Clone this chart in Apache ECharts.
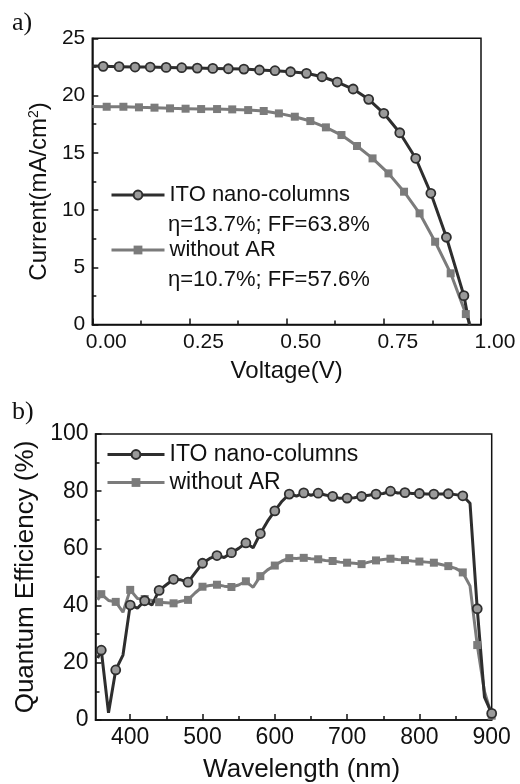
<!DOCTYPE html>
<html>
<head>
<meta charset="utf-8">
<script src="https://cdn.jsdelivr.net/npm/echarts@6/dist/echarts.min.js"></script>
<style>html,body{margin:0;padding:0;background:#fff;}#c{width:520px;height:784px;}</style>
</head>
<body>
<div id="c"></div>
<script>
// ---- Panel a: J-V curves ----
const itoV = [0.000, 0.028, 0.069, 0.110, 0.149, 0.190, 0.230, 0.270, 0.310, 0.350, 0.390, 0.430, 0.470, 0.510, 0.551, 0.591, 0.630, 0.671, 0.711, 0.750, 0.791, 0.832, 0.871, 0.911, 0.956, 0.970];
const itoI = [22.57, 22.55, 22.52, 22.49, 22.49, 22.46, 22.43, 22.40, 22.37, 22.34, 22.31, 22.23, 22.17, 22.08, 21.94, 21.64, 21.18, 20.57, 19.67, 18.45, 16.75, 14.52, 11.46, 7.62, 2.52, 0.00];
const noArV = [0.000, 0.037, 0.080, 0.120, 0.160, 0.200, 0.240, 0.280, 0.321, 0.360, 0.401, 0.441, 0.480, 0.521, 0.561, 0.601, 0.641, 0.681, 0.721, 0.762, 0.802, 0.842, 0.882, 0.922, 0.961, 0.972];
const noArI = [19.05, 19.02, 19.02, 18.97, 18.94, 18.88, 18.85, 18.82, 18.82, 18.79, 18.73, 18.65, 18.44, 18.15, 17.77, 17.22, 16.55, 15.59, 14.51, 13.20, 11.60, 9.71, 7.23, 4.47, 0.91, 0.00];

// ---- Panel b: quantum efficiency ----
const wl = [355, 360, 370, 380, 390, 400, 410, 420, 430, 440, 450, 460, 470, 480, 490, 500, 510, 520, 530, 540, 550, 560, 570, 580, 590, 600, 610, 620, 630, 640, 650, 660, 670, 680, 690, 700, 710, 720, 730, 740, 750, 760, 770, 780, 790, 800, 810, 820, 830, 840, 850, 860, 870, 880, 890, 900];
const qeIto = [21.6, 24.4, 2.5, 17.5, 22.7, 40.2, 39.1, 41.7, 40.2, 45.3, 47.3, 49.2, 49.0, 48.2, 51.5, 54.8, 56.5, 57.5, 56.8, 58.5, 60.0, 61.9, 60.2, 65.2, 69.5, 73.1, 76.5, 79.0, 78.3, 79.4, 78.6, 79.3, 78.7, 78.2, 77.5, 77.6, 77.7, 78.2, 78.6, 79.0, 79.2, 80.0, 79.4, 79.5, 79.2, 79.2, 79.0, 79.0, 79.0, 79.1, 78.8, 78.4, 75.8, 38.9, 8.0, 2.3];
const qeNoAr = [42.0, 44.0, 41.8, 41.3, 37.7, 45.5, 42.5, 42.3, 41.8, 41.2, 41.0, 40.8, 41.5, 42.0, 44.5, 46.6, 47.0, 47.3, 46.8, 46.5, 47.2, 48.5, 46.4, 50.3, 52.5, 54.0, 55.6, 56.6, 56.5, 56.7, 56.4, 56.2, 55.8, 55.6, 55.2, 55.0, 54.8, 54.5, 55.2, 55.8, 56.1, 56.4, 56.1, 55.9, 55.6, 55.4, 55.2, 55.0, 54.4, 53.8, 53.0, 51.6, 46.9, 26.2, 10.0, 1.5];
const wlMajor = [400, 500, 600, 700, 800, 900];
const wlMinor = [450, 550, 650, 750, 850];

const seriesNames = ['ITO nano-columns', 'without AR'];
const effText = ['η=13.7%; FF=63.8%', 'η=10.7%; FF=57.6%'];

const FONT = 'Liberation Sans, Arial, sans-serif';
const INK = '#111';
const DARK = '#2e2e2e';
const GRAY = '#7b7b7b';

// markers: panel a all measured points except the two end points; panel b every 20 nm
const jvData = (xs, ys) => xs.map((x, i) => (i > 0 && i < xs.length - 1) ? [x, ys[i]] : { value: [x, ys[i]], symbol: 'none' });
const qeData = (ys) => wl.map((x, i) => (x % 20 === 0) ? [x, ys[i]] : { value: [x, ys[i]], symbol: 'none' });

const axisLine = { show: true, lineStyle: { color: INK, width: 1.5 } };
const legendCommon = { padding: 0, itemHeight: 11, selectedMode: false, lineStyle: { width: 3 } };

const chart = echarts.init(document.getElementById('c'), null, { renderer: 'canvas' });
chart.setOption({
  animation: false,
  backgroundColor: '#fff',
  grid: [
    { left: 92.3, top: 38.3, width: 388.7, height: 286.2, show: true, borderColor: INK, borderWidth: 1.5, backgroundColor: 'transparent' },
    { left: 95.5, top: 434, width: 396.2, height: 288.3, show: true, borderColor: INK, borderWidth: 1.5, backgroundColor: 'transparent' }
  ],
  xAxis: [
    { gridIndex: 0, type: 'value', min: 0, max: 1, interval: 0.25,
      axisLine, splitLine: { show: false },
      axisTick: { inside: true, length: 6, lineStyle: { color: INK, width: 1.5 } },
      minorTick: { show: true, splitNumber: 2, length: 4, lineStyle: { color: INK, width: 1.5 } },
      axisLabel: { fontFamily: FONT, fontSize: 21, color: INK, margin: 7, padding: [0, 0, 0, 28], formatter: v => v.toFixed(2) },
      name: 'Voltage(V)', nameLocation: 'middle', nameGap: 35,
      nameTextStyle: { fontFamily: FONT, fontSize: 24, color: INK } },
    { gridIndex: 1, type: 'value', min: 352, max: 900,
      axisLine, splitLine: { show: false },
      axisTick: { inside: true, length: 6, customValues: wlMajor, lineStyle: { color: INK, width: 1.5 } },
      axisLabel: { fontFamily: FONT, fontSize: 23, color: INK, margin: 6, customValues: wlMajor },
      name: 'Wavelength (nm)', nameLocation: 'middle', nameGap: 37,
      nameTextStyle: { fontFamily: FONT, fontSize: 26, color: INK, padding: [0, 0, 0, 16] } },
    { gridIndex: 1, type: 'value', min: 352, max: 900, position: 'bottom',
      axisLine: { show: false }, splitLine: { show: false }, axisLabel: { show: false },
      axisTick: { inside: true, length: 4, customValues: wlMinor, lineStyle: { color: INK, width: 1.5 } } }
  ],
  yAxis: [
    { gridIndex: 0, type: 'value', min: 0, max: 25, interval: 5,
      axisLine, splitLine: { show: false },
      axisTick: { inside: true, length: 6, lineStyle: { color: INK, width: 1.5 } },
      minorTick: { show: true, splitNumber: 2, length: 4, lineStyle: { color: INK, width: 1.5 } },
      axisLabel: { fontFamily: FONT, fontSize: 21, color: INK, margin: 7 },
      name: 'Current(mA/cm{sup|2})', nameLocation: 'middle', nameGap: 40,
      nameTextStyle: { fontFamily: FONT, fontSize: 24, color: INK, padding: [0, 20, 0, 0],
        rich: { sup: { fontFamily: FONT, fontSize: 14, color: INK, verticalAlign: 'top', padding: [0, 0, 10, 0] } } } },
    { gridIndex: 1, type: 'value', min: 0, max: 100, interval: 20,
      axisLine, splitLine: { show: false },
      axisTick: { inside: true, length: 6, lineStyle: { color: INK, width: 1.5 } },
      minorTick: { show: true, splitNumber: 2, length: 4, lineStyle: { color: INK, width: 1.5 } },
      axisLabel: { fontFamily: FONT, fontSize: 23, color: INK, margin: 7 },
      name: 'Quantum Efficiency (%)', nameLocation: 'middle', nameGap: 44,
      nameTextStyle: { fontFamily: FONT, fontSize: 26, color: INK } }
  ],
  legend: [
    Object.assign({ data: [seriesNames[0]], left: 110, top: 184, itemWidth: 53,
      textStyle: { fontFamily: FONT, fontSize: 22, color: INK } }, legendCommon),
    Object.assign({ data: [seriesNames[1]], left: 110, top: 239, itemWidth: 53,
      textStyle: { fontFamily: FONT, fontSize: 22, color: INK } }, legendCommon),
    Object.assign({ data: seriesNames, left: 106, top: 443, orient: 'vertical', itemGap: 5, itemWidth: 57,
      textStyle: { fontFamily: FONT, fontSize: 23, color: INK } }, legendCommon)
  ],
  graphic: [
    { type: 'text', style: { x: 168, y: 225, text: effText[0], font: '22px ' + FONT, fill: INK, verticalAlign: 'middle' } },
    { type: 'text', style: { x: 168, y: 280, text: effText[1], font: '22px ' + FONT, fill: INK, verticalAlign: 'middle' } },
    { type: 'text', style: { x: 12, y: 23, text: 'a)', font: '26px Liberation Serif, serif', fill: INK, verticalAlign: 'middle' } },
    { type: 'text', style: { x: 12, y: 412, text: 'b)', font: '26px Liberation Serif, serif', fill: INK, verticalAlign: 'middle' } }
  ],
  series: [
    { name: seriesNames[1], type: 'line', xAxisIndex: 0, yAxisIndex: 0, data: jvData(noArV, noArI),
      symbol: 'rect', symbolSize: 8, showAllSymbol: true,
      lineStyle: { color: GRAY, width: 3 }, itemStyle: { color: GRAY } },
    { name: seriesNames[0], type: 'line', xAxisIndex: 0, yAxisIndex: 0, data: jvData(itoV, itoI),
      symbol: 'circle', symbolSize: 9, showAllSymbol: true,
      lineStyle: { color: DARK, width: 3 }, itemStyle: { color: '#9a9a9a', borderColor: DARK, borderWidth: 1.8 } },
    { name: seriesNames[1], type: 'line', xAxisIndex: 1, yAxisIndex: 1, data: qeData(qeNoAr),
      symbol: 'rect', symbolSize: 8, showAllSymbol: true,
      lineStyle: { color: GRAY, width: 3 }, itemStyle: { color: GRAY } },
    { name: seriesNames[0], type: 'line', xAxisIndex: 1, yAxisIndex: 1, data: qeData(qeIto),
      symbol: 'circle', symbolSize: 9, showAllSymbol: true,
      lineStyle: { color: DARK, width: 3 }, itemStyle: { color: '#9a9a9a', borderColor: DARK, borderWidth: 1.8 } }
  ]
});
</script>
</body>
</html>
